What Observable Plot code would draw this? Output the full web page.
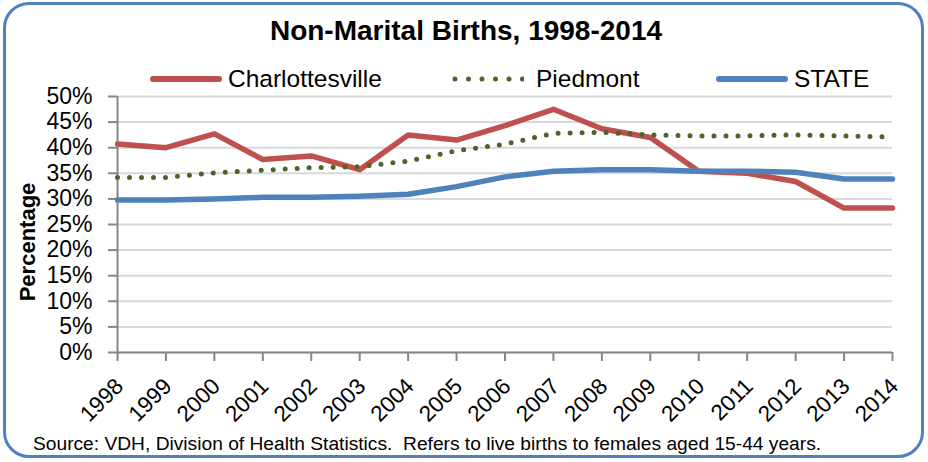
<!DOCTYPE html>
<html>
<head>
<meta charset="utf-8">
<script src="https://cdn.jsdelivr.net/npm/d3@7"></script>
<script src="https://cdn.jsdelivr.net/npm/@observablehq/plot@0.6"></script>
<style>
  html, body { margin: 0; padding: 0; background: #fff; }
  #wrap { position: relative; width: 928px; height: 462px; overflow: hidden; font-family: "Liberation Sans", Arial, sans-serif; color: #000; }
  #border { position: absolute; left: 3px; top: 2px; width: 921px; height: 456px; box-sizing: border-box; border: 3px solid #4f81bd; border-radius: 26px; }
  #title { position: absolute; left: 0; width: 932px; top: 14px; text-align: center; font-weight: bold; font-size: 28px; line-height: 34px; }
  #legend { position: absolute; top: 64px; left: 0; width: 928px; height: 30px; }
  .item { position: absolute; top: 0; display: flex; align-items: center; font-size: 24.5px; line-height: 30px; }
  .item svg { margin-right: 6px; }
  #ylabel { position: absolute; left: 28px; top: 242px; transform: translate(-50%, -50%) rotate(-90deg); font-weight: bold; font-size: 22px; white-space: nowrap; }
  #caption { position: absolute; left: 33px; top: 433px; font-size: 19.2px; line-height: 22px; white-space: pre; }
  #chart { position: absolute; left: 0; top: 0; }
</style>
</head>
<body>
<div id="wrap">
  <div id="chart"></div>
  <div id="border"></div>
  <div id="title"></div>
  <div id="legend"></div>
  <div id="ylabel"></div>
  <div id="caption"></div>
</div>
<script>
const title = "Non-Marital Births, 1998-2014";
const caption = "Source: VDH, Division of Health Statistics.  Refers to live births to females aged 15-44 years.";
const yAxisLabel = "Percentage";
const years = [1998, 1999, 2000, 2001, 2002, 2003, 2004, 2005, 2006, 2007, 2008, 2009, 2010, 2011, 2012, 2013, 2014];
const seriesNames = ["Charlottesville", "Piedmont", "STATE"];
const charlottesville = [40.7, 40.0, 42.7, 37.7, 38.4, 35.7, 42.5, 41.5, 44.3, 47.5, 43.7, 42.0, 35.4, 35.0, 33.4, 28.2, 28.2];
const piedmont = [34.2, 34.2, 35.1, 35.6, 36.1, 36.3, 37.4, 39.4, 40.7, 42.8, 43.0, 42.5, 42.3, 42.3, 42.5, 42.3, 42.1];
const state = [29.8, 29.8, 30.0, 30.3, 30.3, 30.5, 30.9, 32.4, 34.3, 35.4, 35.7, 35.7, 35.4, 35.4, 35.2, 33.9, 33.9];
const yTicks = [0, 5, 10, 15, 20, 25, 30, 35, 40, 45, 50];

const colors = {Charlottesville: "#c0504d", Piedmont: "#4f6228", STATE: "#4f81bd"};
const valuesByName = {Charlottesville: charlottesville, Piedmont: piedmont, STATE: state};
const rows = seriesNames.flatMap(name => years.map((year, i) => ({name, year, value: valuesByName[name][i] / 100})));

document.getElementById("title").textContent = title;
document.getElementById("caption").textContent = caption;
document.getElementById("ylabel").textContent = yAxisLabel;

// legend
const legendPos = {Charlottesville: 150, Piedmont: 452, STATE: 716};
const legend = document.getElementById("legend");
for (const name of seriesNames) {
  const item = document.createElement("div");
  item.className = "item";
  item.style.left = legendPos[name] + "px";
  const dotted = name === "Piedmont";
  item.innerHTML = `<svg width="72" height="12"><line x1="3" x2="${dotted ? 71 : 69}" y1="6" y2="6" stroke="${colors[name]}" stroke-width="${dotted ? 5 : 6}" stroke-linecap="round" ${dotted ? 'stroke-dasharray="0 13.5"' : ''}/></svg><span style="margin-left:${dotted ? 6 : 0}px">${name}</span>`;
  legend.appendChild(item);
}

const chart = Plot.plot({
  width: 928,
  height: 462,
  marginLeft: 117,
  marginRight: 36,
  marginTop: 96,
  marginBottom: 110,
  style: {fontFamily: '"Liberation Sans", Arial, sans-serif', background: "transparent", color: "#000"},
  x: {type: "linear", domain: [1998, 2014]},
  y: {domain: [0, 0.5]},
  marks: [
    Plot.gridY(yTicks.map(d => d / 100), {stroke: "#d9d9d9", strokeOpacity: 1, strokeWidth: 2}),
    Plot.axisY(yTicks.map(d => d / 100), {tickFormat: d => Math.round(d * 100) + "%", tickSize: 9, tickPadding: 16, fontSize: 23, stroke: "#868686", strokeWidth: 2, fill: "#000", label: null}),
    Plot.axisX(years, {tickFormat: d => String(d), tickSize: 9, stroke: "#868686", strokeWidth: 2, fill: "none", label: null}),
    Plot.axisX(years, {tickFormat: d => String(d), tickSize: 0, tickPadding: 14, tickRotate: -45, fontSize: 22.5, fill: "#000", label: null, dx: 2, dy: 16}),
    Plot.ruleX([1998], {stroke: "#868686", strokeWidth: 2}),
    Plot.ruleY([0], {stroke: "#868686", strokeWidth: 2}),
    Plot.lineY(rows.filter(d => d.name === "Charlottesville"), {x: "year", y: "value", stroke: colors.Charlottesville, strokeWidth: 5.5}),
    Plot.lineY(rows.filter(d => d.name === "Piedmont"), {x: "year", y: "value", stroke: colors.Piedmont, strokeWidth: 5, strokeDasharray: "0 12", strokeLinecap: "round"}),
    Plot.lineY(rows.filter(d => d.name === "STATE"), {x: "year", y: "value", stroke: colors.STATE, strokeWidth: 5.5})
  ]
});
document.getElementById("chart").appendChild(chart);
</script>
</body>
</html>
